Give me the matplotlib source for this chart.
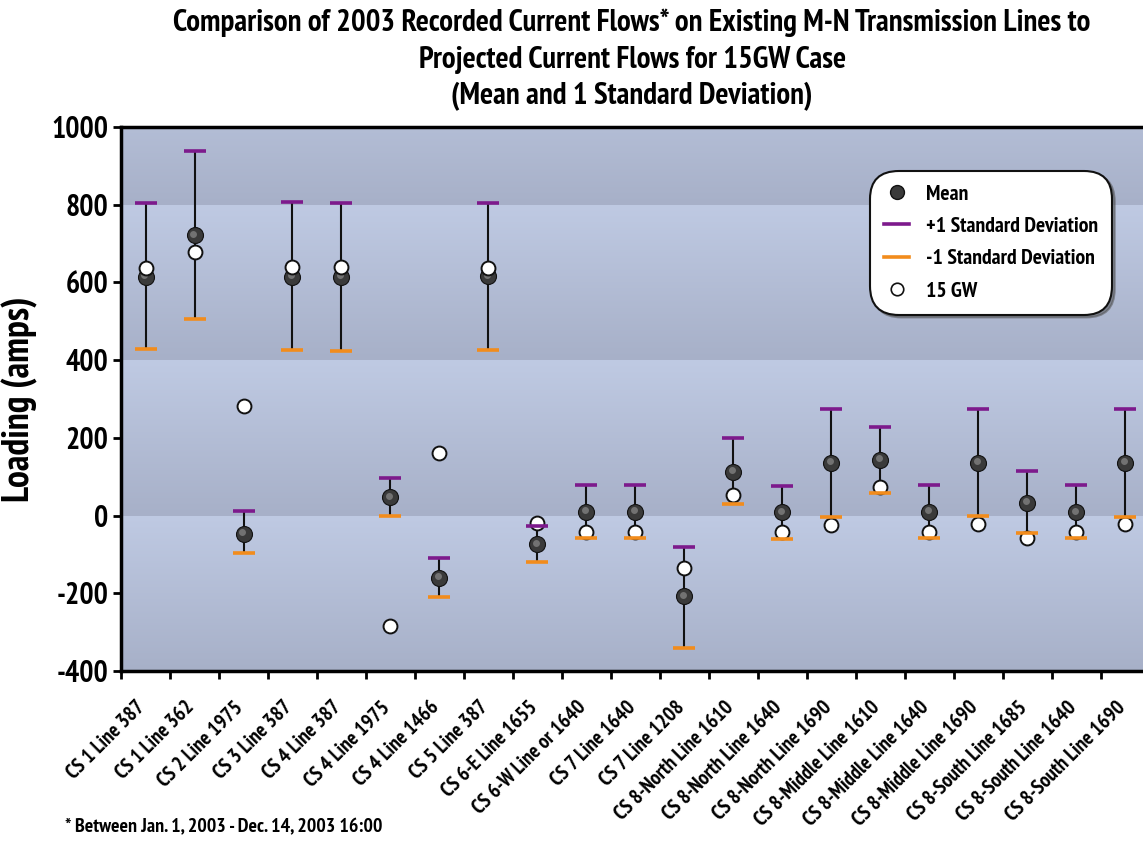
import matplotlib
matplotlib.use("Agg")
import matplotlib.pyplot as plt
import matplotlib.transforms as mtransforms
from matplotlib import font_manager as fm
from matplotlib.colors import LinearSegmentedColormap
from matplotlib.lines import Line2D
import numpy as np

# data (amps)
lines = ['CS 1 Line 387', 'CS 1 Line 362', 'CS 2 Line 1975', 'CS 3 Line 387',
         'CS 4 Line 387', 'CS 4 Line 1975', 'CS 4 Line 1466', 'CS 5 Line 387',
         'CS 6-E Line 1655', 'CS 6-W Line or 1640', 'CS 7 Line 1640', 'CS 7 Line 1208',
         'CS 8-North Line 1610', 'CS 8-North Line 1640', 'CS 8-North Line 1690',
         'CS 8-Middle Line 1610', 'CS 8-Middle Line 1640', 'CS 8-Middle Line 1690',
         'CS 8-South Line 1685', 'CS 8-South Line 1640', 'CS 8-South Line 1690']
mean = [615, 721, -47, 615, 615, 47, -160, 616, -74, 10, 10, -208,
        113, 8, 136, 143, 10, 135, 33, 8, 135]
plus_sd = [805, 939, 11, 808, 805, 96, -108, 805, -27, 79, 79, -80,
           200, 76, 274, 229, 79, 274, 115, 79, 274]
minus_sd = [429, 505, -97, 425, 423, -2, -209, 425, -119, -58, -58, -341,
            29, -60, -3, 57, -58, -2, -44, -58, -4]
gw15 = [636, 678, 283, 640, 640, -283, 160, 636, -18, -41, -41, -136,
        53, -43, -24, 73, -42, -22, -58, -42, -22]

legend_labels = ['Mean', '+1 Standard Deviation', '-1 Standard Deviation', '15 GW']
title_lines = ['Comparison of 2003 Recorded Current Flows* on Existing M-N Transmission Lines to',
               'Projected Current Flows for 15GW Case',
               '(Mean and 1 Standard Deviation)']
footnote = '* Between Jan. 1, 2003 - Dec. 14, 2003 16:00'


# pick a narrow bold face (the original uses something like Arial Narrow)
def pick_font():
    weights = {}
    for f in fm.fontManager.ttflist:
        w = f.weight if isinstance(f.weight, int) else fm.weight_dict.get(f.weight, 400)
        weights.setdefault(f.name, set()).add(w)
    cands = ['Liberation Sans Narrow', 'Arial Narrow', 'Archivo Narrow', 'PT Sans Narrow',
             'Roboto Condensed', 'Fira Sans Condensed', 'IBM Plex Sans Condensed',
             'Open Sans Condensed', 'Encode Sans Condensed', 'Barlow Semi Condensed',
             'Sofia Sans Condensed', 'Asap Condensed', 'Liberation Sans']
    for c in cands:
        if c in weights and max(weights[c]) >= 600:
            return c
    return 'DejaVu Sans'


FONT = pick_font()
plt.rcParams['font.family'] = [FONT, 'DejaVu Sans']
plt.rcParams['font.weight'] = 'bold'
plt.rcParams['axes.unicode_minus'] = False

fig = plt.figure(figsize=(11.43, 8.48), dpi=100)
ax = fig.add_axes([0.1059, 0.2087, 0.9, 0.6415])
renderer = fig.canvas.get_renderer()


def fit(t, target_px):
    # scale a text's size so it is as wide as in the original
    for _ in range(3):
        w = t.get_window_extent(renderer).width
        t.set_fontsize(t.get_fontsize() * target_px / w)
    return t.get_fontsize()


def fit_size(s, target_px):
    probe = fig.text(0, 0, s, fontsize=14, fontweight='bold')
    size = fit(probe, target_px)
    probe.remove()
    return size


x = np.arange(len(lines))

# banded gradient background
cmap = LinearSegmentedColormap.from_list('band', ['#a7b0c8', '#bfcae3'])
grad = np.linspace(0, 1, 256).reshape(-1, 1)
for lo in [-400, 0, 400, 800]:
    ax.imshow(grad, extent=[-0.5, 20.5, lo, lo + 400], origin='lower',
              aspect='auto', cmap=cmap, zorder=0)

# error bars
ax.vlines(x, minus_sd, plus_sd, color='#111111', lw=1.5, zorder=2)
ax.plot(x, mean, 'o', ms=11.5, mfc='#3a3a3a', mec='#111111', mew=0.8, zorder=3)
hl = mtransforms.offset_copy(ax.transData, fig=fig, x=-1.2, y=1.2, units='points')
ax.plot(x, mean, 'o', ms=5, mfc='#8a8a8a', mec='none', alpha=0.7,
        transform=hl, zorder=3.1)
ax.plot(x, gw15, 'o', ms=10, mfc='white', mec='#111111', mew=1.4, zorder=4)
ax.plot(x, plus_sd, '_', ms=16, mew=2.6, color='#7d1a8c', zorder=5)
ax.plot(x, minus_sd, '_', ms=16, mew=2.6, color='#f28c1c', zorder=5)

ax.set_xlim(-0.5, 20.5)
ax.set_ylim(-400, 1000)
ax.set_yticks(range(-400, 1001, 200))
ysize = fit_size('1000', 57)
ax.tick_params(axis='y', labelsize=ysize, width=2, length=6, direction='out', pad=3)

xsize = fit_size(lines[0], 102)
ax.set_xticks(x)
ax.set_xticklabels(lines, rotation=45, ha='right', va='center',
                   rotation_mode='anchor', fontsize=xsize, fontweight='bold')
ax.tick_params(axis='x', which='major', length=0, pad=24)
ax.set_xticks(np.arange(-0.5, 21, 1), minor=True)
ax.tick_params(axis='x', which='minor', length=6, width=2, direction='out')
shift = mtransforms.ScaledTranslation(-3 / 100, 0, fig.dpi_scale_trans)
for t in ax.get_xticklabels():
    t.set_transform(t.get_transform() + shift)

for side in ['left', 'bottom', 'top']:
    ax.spines[side].set_linewidth(2.5)
ax.spines['right'].set_visible(False)

ax.set_ylabel('Loading (amps)', fontsize=fit_size('Loading (amps)', 205), fontweight='bold')
ax.yaxis.label.set_va('center')
ax.yaxis.set_label_coords(-0.098, 0.5)

handles = [
    Line2D([], [], marker='o', ls='none', ms=10, mfc='#3a3a3a', mec='#111111'),
    Line2D([], [], color='#7d1a8c', lw=2.6),
    Line2D([], [], color='#f28c1c', lw=2.6),
    Line2D([], [], marker='o', ls='none', ms=9, mfc='white', mec='#111111', mew=1.2),
]

tsize = fit_size(title_lines[0], 921)
for s, yy in zip(title_lines, [0.973, 0.929, 0.886]):
    fig.text(0.553, yy, s, ha='center', va='center', fontsize=tsize, fontweight='bold')
fig.text(0.057, 0.025, footnote, ha='left', va='center',
         fontsize=fit_size(footnote, 318), fontweight='bold')

legsize = fit_size(legend_labels[1], 172)
leg = ax.legend(handles, legend_labels, loc='upper right', bbox_to_anchor=(0.959, 0.912),
                borderaxespad=0, fancybox=True, shadow=True, framealpha=1,
                edgecolor='#111111', prop={'size': legsize, 'weight': 'bold'},
                handlelength=1.15, labelspacing=0.6, borderpad=0.45, handletextpad=0.75)
leg.get_frame().set_linewidth(1.5)
leg.get_frame().set_boxstyle('round,pad=0.2,rounding_size=1.3')

fig.savefig('out.png', dpi=100)
